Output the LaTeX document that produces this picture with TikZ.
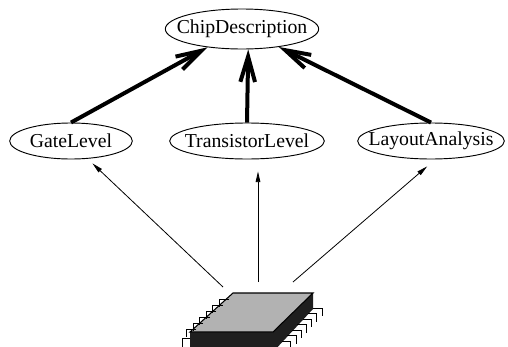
\documentclass[tikz,border=0pt]{standalone}
\usepackage{fontspec}
\setmainfont{Liberation Serif}
\usetikzlibrary{arrows.meta, shapes.geometric}

% label of zero width, so that the ellipse size is set by minimum width
\newcommand{\cname}[1]{\makebox[0pt]{#1}}

\begin{document}
\begin{tikzpicture}[x=0.75pt, y=-0.75pt,
    font=\fontsize{14.8}{17}\selectfont,
    cls/.style={ellipse, draw, line width=0.7pt, inner sep=0pt, minimum height=27pt},
    uses/.style={-{Straight Barb[length=19pt, width=11pt]}, line width=3pt},
    feeds/.style={-{Triangle[length=8pt, width=3.5pt]}, line width=0.6pt},
    pin/.style={line width=0.6pt}]
    \useasboundingbox (0,0) rectangle (508,347);
    % Classes
    \node[cls, minimum width=115pt, minimum height=30pt] (chipdesc) at (242,29) {\cname{ChipDescription}};
    \node[cls, minimum width=92pt] (gate) at (71,141) {\cname{GateLevel}};
    \node[cls, minimum width=116pt] (trans) at (247,141) {\cname{TransistorLevel}};
    \node[cls, minimum width=110pt] (layout) at (431,141) {\cname{LayoutAnalysis}};
    % Thick arrows up to the description
    \draw[uses] (gate.north) -- (chipdesc.208);
    \draw[uses] (trans.north) -- (chipdesc.287);
    \draw[uses] (layout.north) -- (chipdesc.334);
    % Chip: dark sides, then the grey top
    \fill[black!88] (190,332) -- (273,332) -- (313,293) -- (313,309) -- (273,352) -- (190,352) -- cycle;
    \filldraw[fill=gray!60, line width=0.8pt] (233,293) -- (313,293) -- (273,332) -- (190,332) -- cycle;
    % Left pins
    \foreach \i in {0,...,5}
        \draw[pin] ({229.4-6.6*\i},{299+6*\i}) -- ++(-10,0) -- ++(0,8);
    \draw[pin] (190,338) -- (182,338) -- (182,350);
    % Right pins
    \foreach \i in {0,...,6}
        \draw[pin] ({313-5.2*\i},{308+5.5*\i}) -- ++(9,0) -- ++(0,8);
    % Thin arrows from the chip
    \coordinate (icl) at (223,287);
    \coordinate (icm) at (258,282);
    \coordinate (icr) at (293,282);
    \draw[feeds, shorten >=5pt] (icl) -- (gate.-47);
    \draw[feeds, shorten >=9pt] (icm) -- (icm |- trans.south);
    \draw[feeds, shorten >=8pt] (icr) -- (layout.-77);
\end{tikzpicture}
\end{document}
